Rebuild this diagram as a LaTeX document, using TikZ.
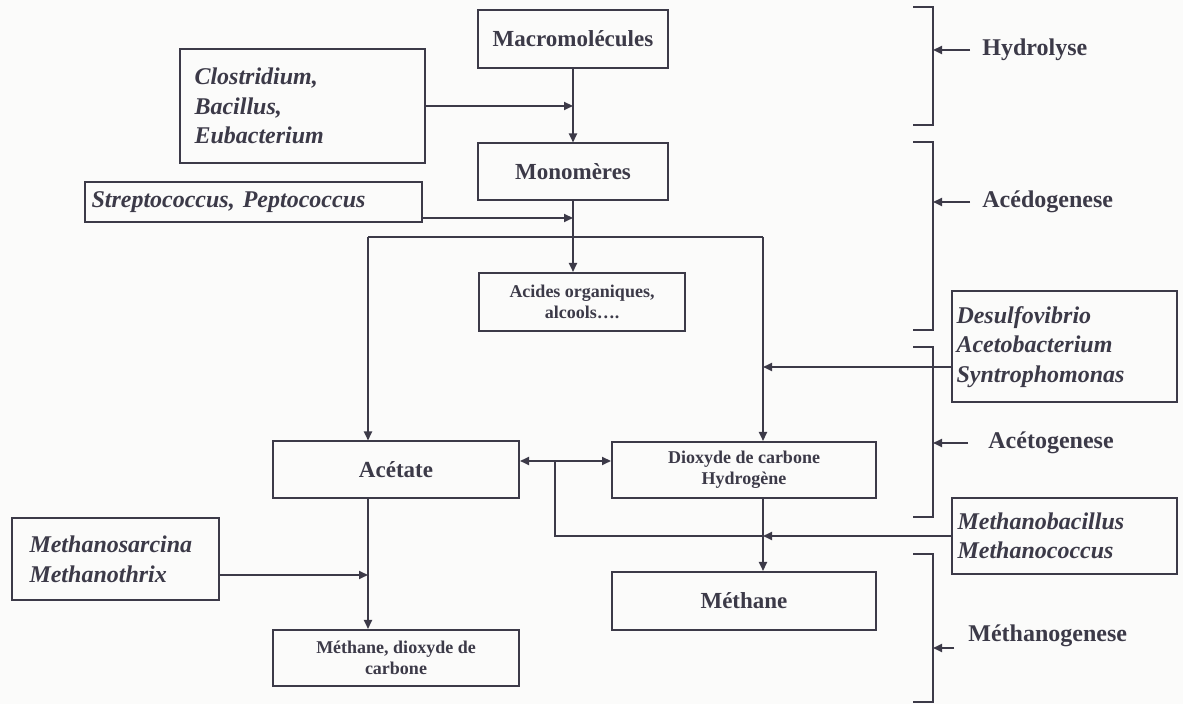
\documentclass[tikz,border=0pt]{standalone}
\usepackage{fontspec}
\setmainfont{Liberation Serif}
\usepackage{tikz}
\usetikzlibrary{arrows.meta}
\definecolor{ink}{RGB}{60,58,72}
\definecolor{paper}{RGB}{251,251,250}

\begin{document}
\begin{tikzpicture}[x=0.5pt,y=-0.5pt,
  box/.style={draw=ink, text=ink, line width=1pt, inner sep=0pt, align=center,
    font=\fontsize{11.5}{13.5}\selectfont\bfseries},
  smallbox/.style={box, font=\fontsize{9}{10.5}\selectfont\bfseries},
  species/.style={draw=ink, text=ink, line width=1pt, align=left, inner ysep=0pt,
    font=\fontsize{12}{14.8}\selectfont\bfseries\itshape},
  phase/.style={anchor=west, text=ink, inner sep=0pt, font=\fontsize{12}{14}\selectfont\bfseries},
  arr/.style={draw=ink, line width=1pt, -{Triangle[length=4.5pt,width=4pt]}},
  arrs/.style={arr, {Triangle[length=4.5pt,width=4pt]}-{Triangle[length=4.5pt,width=4pt]}},
  link/.style={draw=ink, line width=1pt}]
\fill[paper] (0,0) rectangle (1183,704);
\useasboundingbox (0,0) rectangle (1183,704);

\node[box, minimum width=95pt, minimum height=29pt] (macro) at (573,39) {Macromolécules};
\node[box, minimum width=95pt, minimum height=28.5pt] (mono) at (573,172) {Monomères};
\node[smallbox, minimum width=103pt, minimum height=29pt] (acides) at (582,302) {Acides organiques,\\ alcools….};
\node[box, minimum width=123pt, minimum height=28.5pt] (acet) at (396,470) {Acétate};
\node[smallbox, minimum width=132pt, minimum height=28pt] (diox) at (744,470) {Dioxyde de carbone\\ Hydrogène};
\node[box, minimum width=132pt, minimum height=29pt] (meth) at (744,601) {Méthane};
\node[smallbox, minimum width=123pt, minimum height=28pt] (mdc) at (396,658) {Méthane, dioxyde de\\ carbone};

\node[species, text width=107.5pt, inner xsep=7.5pt, minimum height=57pt] (clos) at (302,106)
  {Clostridium,\\ Bacillus,\\ Eubacterium};
\node[species, text width=161.5pt, inner xsep=3.5pt, minimum height=20pt] (strep) at (253,202)
  {Streptococcus, Peptococcus};
\node[species, text width=107.5pt, inner xsep=2.5pt, minimum height=55.5pt] (desulfo) at (1064,347)
  {Desulfovibrio\\ Acetobacterium\\ Syntrophomonas};
\node[species, text width=106.5pt, inner xsep=3pt, minimum height=38pt] (mbac) at (1064,536)
  {Methanobacillus\\ Methanococcus};
\node[species, text width=85.5pt, inner xsep=9pt, minimum height=41pt] (msarc) at (115,559)
  {Methanosarcina\\ Methanothrix};

\node[phase] (hyd) at (982,50) {Hydrolyse};
\node[phase] (aced) at (982,202) {Acédogenese};
\node[phase] (acetg) at (988,443) {Acétogenese};
\node[phase] (methg) at (968,636) {Méthanogenese};

\coordinate (jl) at (368,237);
\coordinate (jr) at (763,237);
\coordinate (jb) at (555,461);
\coordinate (bx) at (933,0);
\coordinate (sp) at ([yshift=-8pt]strep.east);
\coordinate (ds) at ([yshift=-10pt]desulfo.west);
\coordinate (ms) at ([yshift=-8pt]msarc.east);
\coordinate (da) at ([yshift=4.5pt]acet.east);
\coordinate (jm) at (jr |- mbac.west);

\draw[arr] (macro.south) -- (mono.north);
\draw[arr] (clos.east) -- (clos.east -| macro.south);
\draw[arr] (sp) -- (sp -| mono.south);
\draw[arr] (mono.south) -- (mono.south |- acides.north);
\draw[link] (jl) -- (jr);
\draw[arr] (jl) -- (jl |- acet.north);
\draw[arr] (jr) -- (jr |- diox.north);
\draw[arr] (ds) -- (ds -| jr);
\draw[arr] (jl |- acet.south) -- (jl |- mdc.north);
\draw[arr] (ms) -- (ms -| jl);
\draw[arrs] (da) -- (da -| diox.west);
\draw[arr] (jr |- diox.south) -- (jr |- meth.north);
\draw[arr] (mbac.west) -- (jm);
\draw[link] (jm) -| (jb);

\draw[link] (913,7) -- (933,7) -- (933,125) -- (913,125);
\draw[link] (913,142) -- (933,142) -- (933,330) -- (913,330);
\draw[link] (913,347) -- (933,347) -- (933,517) -- (913,517);
\draw[link] (913,554) -- (933,554) -- (933,702) -- (913,702);
\draw[arr] ([xshift=-6pt]hyd.west) -- (hyd.west -| bx);
\draw[arr] ([xshift=-6pt]aced.west) -- (aced.west -| bx);
\draw[arr] ([xshift=-10pt]acetg.west) -- (acetg.west -| bx);
\draw[arr] ([xshift=-7pt,yshift=-6pt]methg.west) -- ([yshift=-6pt]methg.west -| bx);
\end{tikzpicture}
\end{document}
